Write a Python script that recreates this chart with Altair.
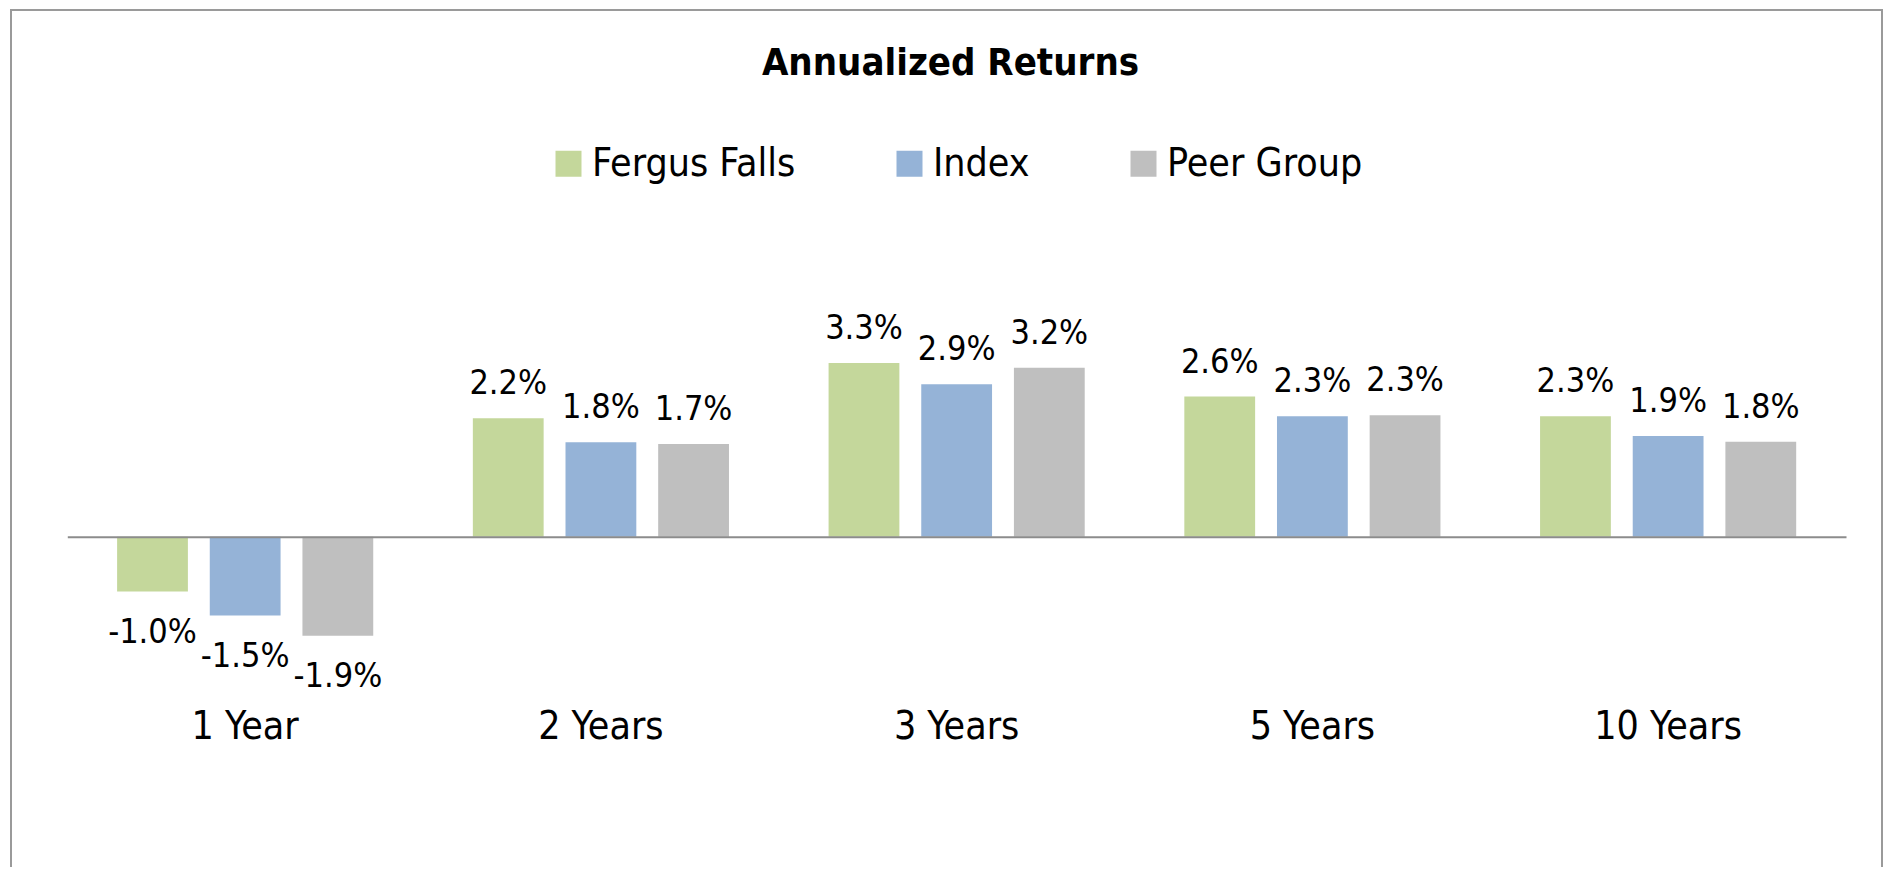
import altair as alt
import pandas as pd

periods = ["1 Year", "2 Years", "3 Years", "5 Years", "10 Years"]
series = ["Fergus Falls", "Index", "Peer Group"]
fergus = [-1.03, 2.22, 3.26, 2.63, 2.26]
index_vals = [-1.48, 1.77, 2.86, 2.26, 1.89]
peer = [-1.86, 1.74, 3.17, 2.28, 1.78]
colors = ["#C4D79B", "#95B3D7", "#BFBFBF"]

rows = []
for s, vals in zip(series, [fergus, index_vals, peer]):
    for p, v in zip(periods, vals):
        rows.append({"period": p, "series": s, "value": v, "label": f"{v:.1f}%"})
df = pd.DataFrame(rows)

FONT = "DejaVu Sans Condensed, Liberation Sans Narrow, sans-serif"

# the view is the outer frame of the chart
W = 1871
H = 863
ZERO_Y = 526.7

base = alt.Chart(df).encode(
    x=alt.X(
        "period:N",
        sort=periods,
        scale=alt.Scale(range=[56.3, 1835], paddingInner=0.28, paddingOuter=0.14),
        axis=alt.Axis(
            title=None, labelAngle=0, domain=True, domainColor="#8c8c8c", domainWidth=2,
            ticks=False, grid=False, offset=ZERO_Y - H, labelPadding=171,
            labelFontSize=39, labelFont=FONT, labelColor="black", zindex=1,
        ),
    ),
    xOffset=alt.XOffset("series:N", sort=series,
                        scale=alt.Scale(paddingInner=0.236, paddingOuter=0)),
    y=alt.Y("value:Q", scale=alt.Scale(domain=[-3, 4], range=[686.6, 313.5], nice=False, zero=False),
            axis=None),
)

bars = base.mark_bar().encode(
    color=alt.Color(
        "series:N",
        sort=series,
        scale=alt.Scale(domain=series, range=colors),
        legend=alt.Legend(
            orient="none", legendX=538, legendY=134, direction="horizontal",
            title=None, symbolType="square", symbolSize=676, symbolStrokeWidth=0,
            symbolOpacity=1, labelFontSize=39, labelFont=FONT, labelColor="black",
            labelOffset=4, columnPadding=94, padding=0, labelLimit=500,
        ),
    )
)

pos_text = base.transform_filter("datum.value >= 0").mark_text(
    dy=-24, baseline="alphabetic", fontSize=34, font=FONT, color="black"
).encode(text="label:N")

neg_text = base.transform_filter("datum.value < 0").mark_text(
    dy=51, baseline="alphabetic", fontSize=34, font=FONT, color="black"
).encode(text="label:N")

chart = alt.layer(bars, pos_text, neg_text).properties(
    width=W,
    height=H,
    autosize=alt.AutoSizeParams(type="none"),
    padding={"left": 3, "top": 2, "right": 2, "bottom": -6},
    title=alt.Title(
        "Annualized Returns", fontSize=38, font=FONT, fontWeight="bold",
        color="black", anchor="middle", offset=0, dy=103, dx=4,
        baseline="alphabetic",
    ),
    background="white",
).configure_view(stroke="#9a9a9a", strokeWidth=2)

chart.save("out.html", embed_options={"renderer": "svg", "actions": False})
